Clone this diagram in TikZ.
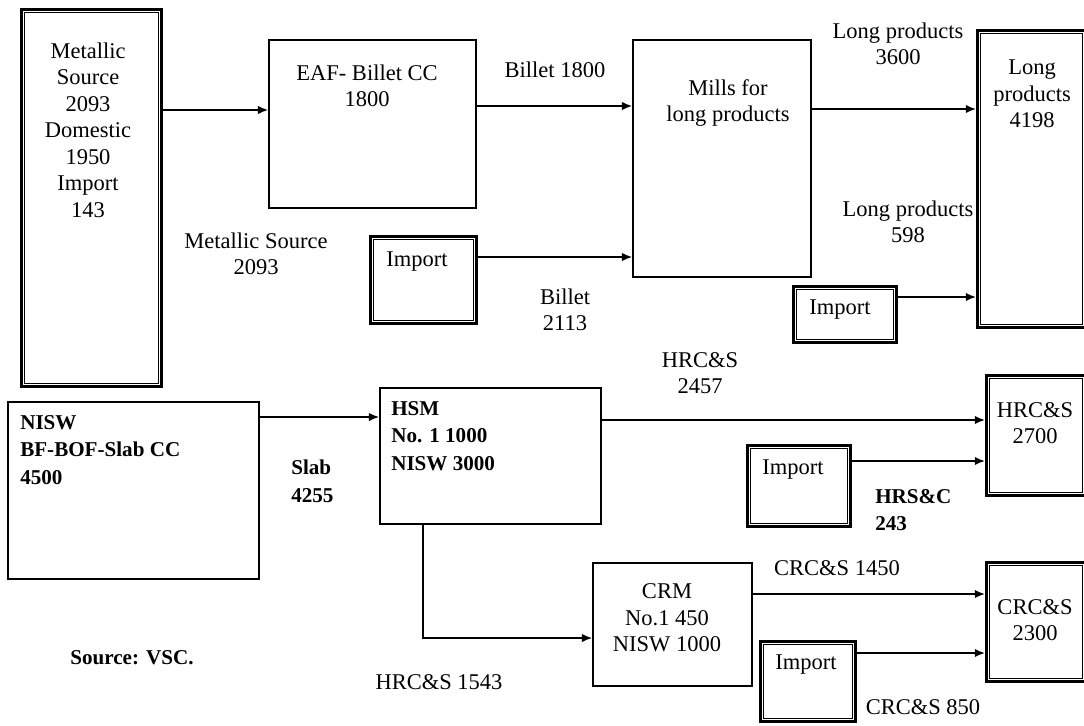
\documentclass[tikz,border=0pt]{standalone}
\usepackage{fontspec}
\setmainfont{Liberation Serif}
\usetikzlibrary{arrows.meta, fit}
\tikzset{
  plainbox/.style={draw, line width=0.9pt, inner sep=0pt},
  dblbox/.style={draw, line width=1.9pt, inner sep=0pt},
  boxtext/.style={font=\fontsize{16}{18.8}\selectfont, align=center, inner sep=0pt},
  boldtext/.style={font=\fontsize{15}{19.6}\selectfont\bfseries, align=left, inner sep=0pt},
  arrow/.style={-{Latex[length=2.6mm, width=2.1mm]}, line width=1.3pt}
}
\begin{document}
\begin{tikzpicture}[x=0.025cm, y=-0.025cm]
\useasboundingbox[fill=white] (0,0) rectangle (1084,725);
% upper chain: long products
\node[dblbox, fit={(21.5,9.5) (161.5,386.5)}] (metal) {};
\node[boxtext] (metal-txt) at (88,130) {Metallic\\Source\\2093\\Domestic\\1950\\Import\\143};
\node[plainbox, fit={(269,40) (476,208)}] (eaf) {};
\node[boxtext] (eaf-txt) at (367,86) {EAF- Billet CC\\1800};
\node[plainbox, fit={(633,40) (811,277)}] (mills) {};
\node[boxtext] (mills-txt) at (728,103) {Mills for\\long products};
\node[dblbox, fit={(370.5,236.5) (476.5,323.5)}] (imp1) {};
\node[boxtext] (imp1-txt) at (417,262) {Import};
\node[dblbox, fit={(977.5,30.5) (1086,327.5)}] (long) {};
\node[boxtext] (long-txt) at (1032,94) {Long\\products\\4198};
\node[dblbox, fit={(793.5,286.5) (896.5,342.5)}] (imp2) {};
\node[boxtext] (imp2-txt) at (840,310) {Import};

\node[boxtext] (l-msrc) at (256,254) {Metallic Source\\2093};
\node[boxtext] (l-bil1) at (555,70) {Billet 1800};
\node[boxtext] (l-bil2) at (565,310) {Billet\\2113};
\node[boxtext] (l-lp1) at (898,44) {Long products\\3600};
\node[boxtext] (l-lp2) at (908,222) {Long products\\598};

\draw[arrow] (metal.east |- 0,110) -- (eaf.west |- 0,110);
\draw[arrow] (eaf.east |- 0,106) -- (mills.west |- 0,106);
\draw[arrow] (mills.east |- 0,109) -- (long.west |- 0,109);
\draw[arrow] (imp1.east |- 0,257) -- (mills.west |- 0,257);
\draw[arrow] (imp2.east |- 0,297) -- (long.west |- 0,297);

% lower chain: flat products
\node[plainbox, fit={(8,402) (259,579)}] (nisw) {};
\node[boldtext, anchor=west] (nisw-txt) at (20,450) {NISW\\BF-BOF-Slab CC\\4500};
\node[plainbox, fit={(380,388) (601,524)}] (hsm) {};
\node[boldtext, anchor=west] (hsm-txt) at (391,436) {HSM\\No. 1 1000\\NISW 3000};
\node[dblbox, fit={(986.5,375.5) (1086,495.5)}] (hrc) {};
\node[boxtext] (hrc-txt) at (1035,423) {HRC\&S\\2700};
\node[dblbox, fit={(747.5,445.5) (850.5,526.5)}] (imp3) {};
\node[boxtext] (imp3-txt) at (793,470) {Import};
\node[plainbox, fit={(593,563) (752,686)}] (crm) {};
\node[boxtext] (crm-txt) at (667,618) {CRM\\No.1 450\\NISW 1000};
\node[dblbox, fit={(986.5,562.5) (1086,681.5)}] (crc) {};
\node[boxtext] (crc-txt) at (1035,620) {CRC\&S\\2300};
\node[dblbox, fit={(760.5,641.5) (855.5,721.5)}] (imp4) {};
\node[boxtext] (imp4-txt) at (806,665) {Import};

% thin inner line of the framed boxes
\foreach \b in {metal,imp1,long,imp2,hrc,imp3,crc,imp4}
  \draw[line width=0.7pt] ([shift={(3.3pt,-3.3pt)}]\b.north west) rectangle ([shift={(-3.3pt,3.3pt)}]\b.south east);

\node[boldtext, anchor=west] (l-slab) at (291,481) {Slab\\4255};
\node[boxtext] (l-hrc1) at (700,373) {HRC\&S\\2457};
\node[boldtext, anchor=west] (l-hrc2) at (875,510) {HRS\&C\\243};
\node[boxtext] (l-hrc3) at (439,682) {HRC\&S 1543};
\node[boxtext] (l-crc1) at (837,568) {CRC\&S 1450};
\node[boxtext] (l-crc2) at (923,707) {CRC\&S 850};
\node[boldtext] (src) at (132,658) {Source: VSC.};

\draw[arrow] (nisw.east |- 0,417) -- (hsm.west |- 0,417);
\draw[arrow] (hsm.east |- 0,420) -- (hrc.west |- 0,420);
\draw[arrow] (imp3.east |- 0,461) -- (hrc.west |- 0,461);
\draw[arrow] (hsm.south -| 423,0) |- (crm.west |- 0,638);
\draw[arrow] (crm.east |- 0,594) -- (crc.west |- 0,594);
\draw[arrow] (imp4.east |- 0,653) -- (crc.west |- 0,653);
\end{tikzpicture}
\end{document}
